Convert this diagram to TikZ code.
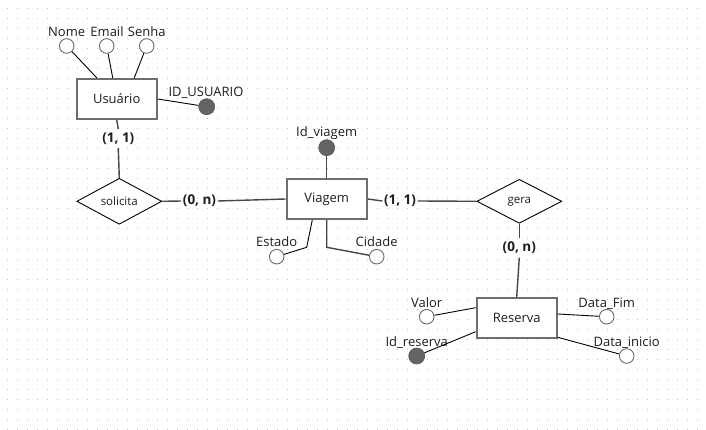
\documentclass[tikz,border=0pt]{standalone}
\usepackage{fontspec}
\setmainfont{Open Sans}
\usetikzlibrary{shapes.geometric}
\definecolor{gridc}{HTML}{C4C4C4}
\definecolor{entc}{HTML}{6E6E6E}
\definecolor{circc}{HTML}{6A6A6A}
\definecolor{keyc}{HTML}{646464}
\definecolor{txt}{HTML}{1E1E1E}
\definecolor{rlc}{HTML}{474747}
\tikzset{
  entity/.style={draw=entc, line width=2pt, fill=white, minimum width=80pt, minimum height=40pt, inner sep=0pt, font=\fontsize{13}{15}\selectfont, text=txt},
  rel/.style={diamond, draw=black, line width=0.9pt, fill=white, minimum width=85pt, minimum height=44pt, inner sep=0pt, font=\fontsize{11.5}{13}\selectfont, text=txt},
  attr/.style={circle, draw=circc, line width=0.9pt, fill=white, minimum size=14.6pt, inner sep=0pt},
  keyattr/.style={circle, fill=keyc, draw=keyc!85!black, line width=0.6pt, minimum size=16pt, inner sep=0pt},
  lbl/.style={anchor=base, font=\fontsize{13}{15}\selectfont, text=txt, inner sep=0pt},
  card/.style={font=\bfseries\fontsize{13.5}{16}\selectfont, text=txt, inner xsep=1.5pt, inner ysep=3.5pt},
  conn/.style={line width=0.9pt, draw=black},
  rline/.style={line width=1.4pt, draw=rlc}
}
\begin{document}
\begin{tikzpicture}[x=1pt,y=-1pt]
\useasboundingbox (0,0) rectangle (706,430);
\fill[white] (0,0) rectangle (706,430);
\foreach \yy in {9,19,...,429}
  \draw[gridc, line width=1pt, dash pattern=on 1pt off 9pt] (6.5,\yy) -- (706,\yy);

% entities
\node[entity] (usuario) at (116.7,99) {Usuário};
\node[entity] (viagem) at (326.7,199) {Viagem};
\node[entity] (reserva) at (516.7,318.3) {Reserva};

% relationships
\node[rel] (solicita) at (119.3,201.3) {solicita};
\node[rel] (gera) at (519.3,201.3) {gera};

% attribute circles
\node[attr] (nome) at (66.7,46) {};
\node[attr] (email) at (106.7,46) {};
\node[attr] (senha) at (146.7,46) {};
\node[keyattr] (idu) at (206.7,106.7) {};
\node[keyattr] (idv) at (326.7,147.7) {};
\node[attr] (estado) at (276.7,256.7) {};
\node[attr] (cidade) at (376.7,256.7) {};
\node[attr] (valor) at (426.7,316.7) {};
\node[attr] (datafim) at (606.7,316.7) {};
\node[keyattr] (idr) at (416.7,356) {};
\node[attr] (datai) at (626.7,356) {};

% attribute labels
\node[lbl] (lnome) at (66.7,36.7) {Nome};
\node[lbl] (lemail) at (107,36.7) {Email};
\node[lbl] (lsenha) at (146.7,36.7) {Senha};
\node[lbl] (lidu) at (206,96.8) {ID\_USUARIO};
\node[lbl] (lidv) at (326.7,136.5) {Id\_viagem};
\node[lbl] (lestado) at (276.7,246.8) {Estado};
\node[lbl] (lcidade) at (376.7,246.8) {Cidade};
\node[lbl] (lvalor) at (426.7,307) {Valor};
\node[lbl] (ldatafim) at (606.7,307) {Data\_Fim};
\node[lbl] (lidr) at (416.7,346.5) {Id\_reserva};
\node[lbl] (ldatai) at (626.7,346.5) {Data\_inicio};

% cardinalities
\node[card] (c1) at (118.3,138.5) {(1, 1)};
\node[card] (c2) at (199.5,201) {(0, n)};
\node[card] (c3) at (400,201) {(1, 1)};
\node[card] (c4) at (519.3,248) {(0, n)};

% bend points
\coordinate (eb) at (306.7,247.3);
\coordinate (cb) at (326.7,247.3);

% attribute connectors
\draw[conn] (nome) -- (usuario);
\draw[conn] (email) -- (usuario);
\draw[conn] (senha) -- ([xshift=17.5pt]usuario.north);
\draw[conn] (usuario.east) -- (idu);
\draw[rline] (idv) -- (viagem);
\draw[conn] ([xshift=-14.4pt]viagem.south) -- (eb) -- (estado);
\draw[rline] (viagem.south) -- (cb) -- (cidade);
\draw[conn] (valor) -- ([yshift=10.6pt]reserva.west);
\draw[conn] ([yshift=4.3pt]reserva.east) -- (datafim);
\draw[conn] ([yshift=-13.4pt]reserva.west) -- (idr);
\draw[conn] ([yshift=-19pt]reserva.east) -- (datai);

% relationship connectors
\draw[rline] (usuario.south) -- (c1.north);
\draw[rline] (c1.south) -- (solicita.north);
\draw[rline] (solicita.east) -- (c2.west);
\draw[rline] (c2.east) -- (viagem.west);
\draw[rline] (viagem.east) -- (c3.west);
\draw[rline] (c3.east) -- (gera.west);
\draw[rline] (gera.south) -- (c4.north);
\draw[rline] (c4.south) -- (reserva.north);
\end{tikzpicture}
\end{document}
